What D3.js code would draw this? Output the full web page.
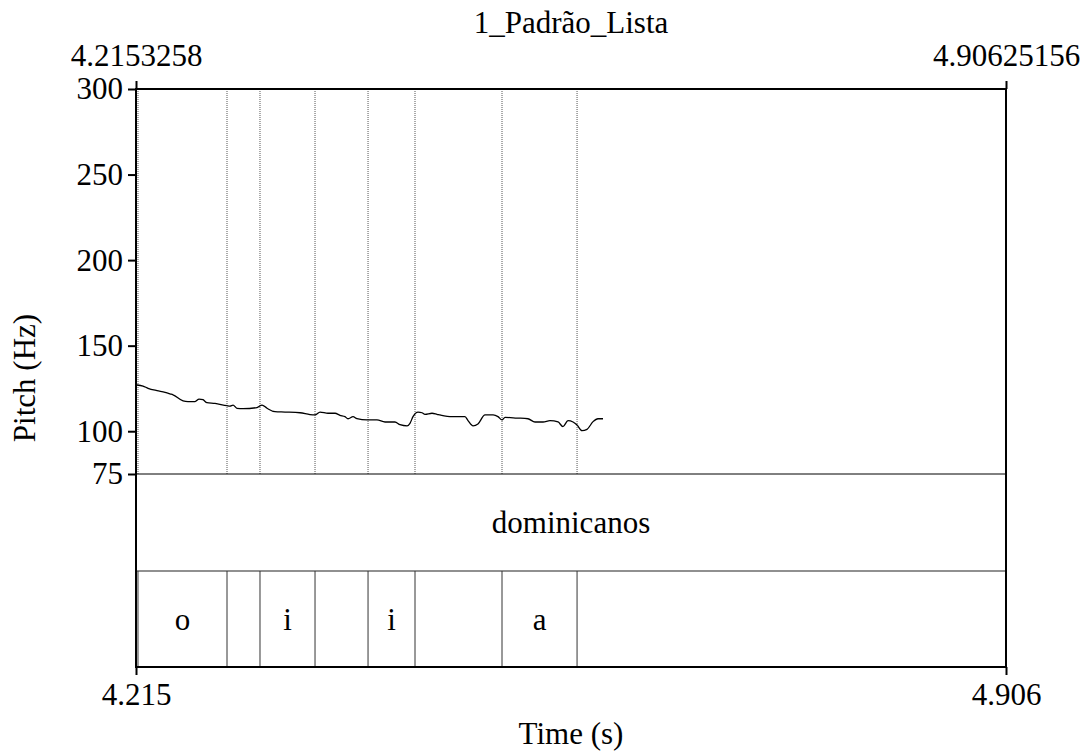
<!DOCTYPE html>
<html><head><meta charset="utf-8">
<script src="https://cdn.jsdelivr.net/npm/d3@7"></script>
<style>body{margin:0;background:#fff}svg{display:block}svg text{font-family:"Liberation Serif" !important;}</style>
</head><body>
<script>
const title = "1_Padrão_Lista";
const tStart = 4.2153258, tEnd = 4.90625156;
const topTickLabels = ["4.2153258", "4.90625156"];
const bottomTickLabels = ["4.215", "4.906"];
const pitchTicks = [75, 100, 150, 200, 250, 300];
const pitchTimes = [4.2161,4.2209,4.2249,4.2320,4.2384,4.2423,4.2447,4.2527,4.2566,4.2622,4.2654,4.2685,4.2717,4.2781,4.2876,4.2900,4.2924,4.2955,4.3003,4.3114,4.3154,4.3194,4.3257,4.3337,4.3456,4.3535,4.3575,4.3615,4.3678,4.3734,4.3773,4.3813,4.3837,4.3877,4.3908,4.3988,4.4067,4.4131,4.4210,4.4250,4.4306,4.4329,4.4353,4.4393,4.4425,4.4448,4.4504,4.4544,4.4568,4.4663,4.4766,4.4790,4.4830,4.4869,4.4925,4.4989,4.5028,4.5060,4.5084,4.5179,4.5266,4.5322,4.5386,4.5441,4.5505,4.5544,4.5584,4.5624,4.5656,4.5695,4.5735,4.5783,4.5822,4.5862];
const pitchHz = [127.0,126.4,125.1,123.7,122.7,121.8,121.3,117.7,117.3,117.3,118.8,118.4,116.7,116.3,114.9,114.7,115.3,113.4,113.2,113.8,115.3,113.4,111.4,111.2,110.8,109.7,109.5,111.2,110.5,110.5,109.3,108.5,107.3,108.5,107.3,106.6,106.6,105.4,105.4,103.8,103.1,104.6,108.5,111.2,110.8,109.9,110.5,109.9,109.5,108.5,108.5,106.2,103.1,104.2,109.5,109.5,108.5,106.6,108.1,107.7,107.3,105.4,105.4,106.2,105.4,102.7,106.2,105.4,103.6,100.3,101.1,105.6,107.3,107.3];
const boundaries = [4.2169, 4.2876, 4.3138, 4.3575, 4.3996, 4.4369, 4.5060, 4.5656];
const wordTier = [{start: tStart, end: tEnd, label: "dominicanos"}];
const phoneLabels = ["o", "", "i", "", "i", "", "a"];

const W = 1092, H = 751;
const FONT = "Liberation Serif";
const FS = 31;
const svg = d3.select("body").append("svg").attr("width", W).attr("height", H);

const x = d3.scaleLinear().domain([tStart, tEnd]).range([136, 1006]);
const y = d3.scaleLinear().domain([75, 300]).range([474, 89]);
const tier1 = [474, 571], tier2 = [571, 667];

// dotted boundary lines in pitch area
svg.append("g").selectAll("line").data(boundaries).join("line")
  .attr("x1", d => x(d)).attr("x2", d => x(d))
  .attr("y1", y(300)).attr("y2", y(75))
  .attr("stroke", "#555").attr("stroke-width", 1).attr("stroke-dasharray", "1,1");

// pitch curve
const line = d3.line().x((d, i) => x(pitchTimes[i])).y(d => y(d)).curve(d3.curveMonotoneX);
svg.append("path").datum(pitchHz).attr("d", line)
  .attr("fill", "none").attr("stroke", "#000").attr("stroke-width", 1.3);

// tier separators
svg.append("line").attr("x1", x(tStart)).attr("x2", x(tEnd)).attr("y1", tier1[0]).attr("y2", tier1[0])
  .attr("stroke", "#000").attr("stroke-width", 1);
svg.append("line").attr("x1", x(tStart)).attr("x2", x(tEnd)).attr("y1", tier2[0]).attr("y2", tier2[0])
  .attr("stroke", "#222").attr("stroke-width", 1.2);

// phone tier boundaries
svg.append("g").selectAll("line").data(boundaries).join("line")
  .attr("x1", d => x(d)).attr("x2", d => x(d))
  .attr("y1", tier2[0]).attr("y2", tier2[1])
  .attr("stroke", "#333").attr("stroke-width", 1);

function styleText(sel) {
  sel.style("font-family", FONT).style("font-size", FS + "px").attr("fill", "#000");
}

// tier texts
svg.append("g").selectAll("text").data(wordTier).join("text")
  .attr("x", d => (x(d.start) + x(d.end)) / 2).attr("y", (tier1[0] + tier1[1]) / 2)
  .attr("text-anchor", "middle").attr("dominant-baseline", "central")
  .call(styleText).text(d => d.label);
const phones = phoneLabels.map((l, i) => ({label: l, start: boundaries[i], end: boundaries[i + 1]}));
svg.append("g").selectAll("text").data(phones).join("text")
  .attr("x", d => (x(d.start) + x(d.end)) / 2).attr("y", (tier2[0] + tier2[1]) / 2)
  .attr("text-anchor", "middle").attr("dominant-baseline", "central")
  .call(styleText).text(d => d.label);

// frame
svg.append("rect").attr("x", x(tStart)).attr("y", y(300))
  .attr("width", x(tEnd) - x(tStart)).attr("height", tier2[1] - y(300))
  .attr("fill", "none").attr("stroke", "#000").attr("stroke-width", 2);

// left axis
const yAxis = svg.append("g").attr("transform", `translate(${x(tStart)},0)`)
  .call(d3.axisLeft(y).tickValues(pitchTicks).tickSize(8).tickPadding(5).tickFormat(d3.format("d")));
yAxis.select(".domain").remove();
yAxis.selectAll("line").attr("stroke", "#000").attr("stroke-width", 2);
yAxis.selectAll("text").call(styleText);

// top axis
const topAxis = svg.append("g").attr("transform", `translate(0,${y(300)})`)
  .call(d3.axisTop(x).tickValues([tStart, tEnd]).tickSize(8).tickPadding(15)
    .tickFormat((d, i) => topTickLabels[i]));
topAxis.select(".domain").remove();
topAxis.selectAll("line").attr("stroke", "#000").attr("stroke-width", 2);
topAxis.selectAll("text").call(styleText);

// bottom axis
const botAxis = svg.append("g").attr("transform", `translate(0,${tier2[1]})`)
  .call(d3.axisBottom(x).tickValues([tStart, tEnd]).tickSize(8).tickPadding(8)
    .tickFormat((d, i) => bottomTickLabels[i]));
botAxis.select(".domain").remove();
botAxis.selectAll("line").attr("stroke", "#000").attr("stroke-width", 2);
botAxis.selectAll("text").call(styleText);

// titles
svg.append("text").attr("x", 571).attr("y", 33).attr("text-anchor", "middle")
  .call(styleText).text(title);
svg.append("text").attr("x", 571).attr("y", 744).attr("text-anchor", "middle")
  .call(styleText).text("Time (s)");
svg.append("text").attr("transform", "translate(35,378) rotate(-90)").attr("text-anchor", "middle")
  .call(styleText).text("Pitch (Hz)");
</script>
</body></html>
